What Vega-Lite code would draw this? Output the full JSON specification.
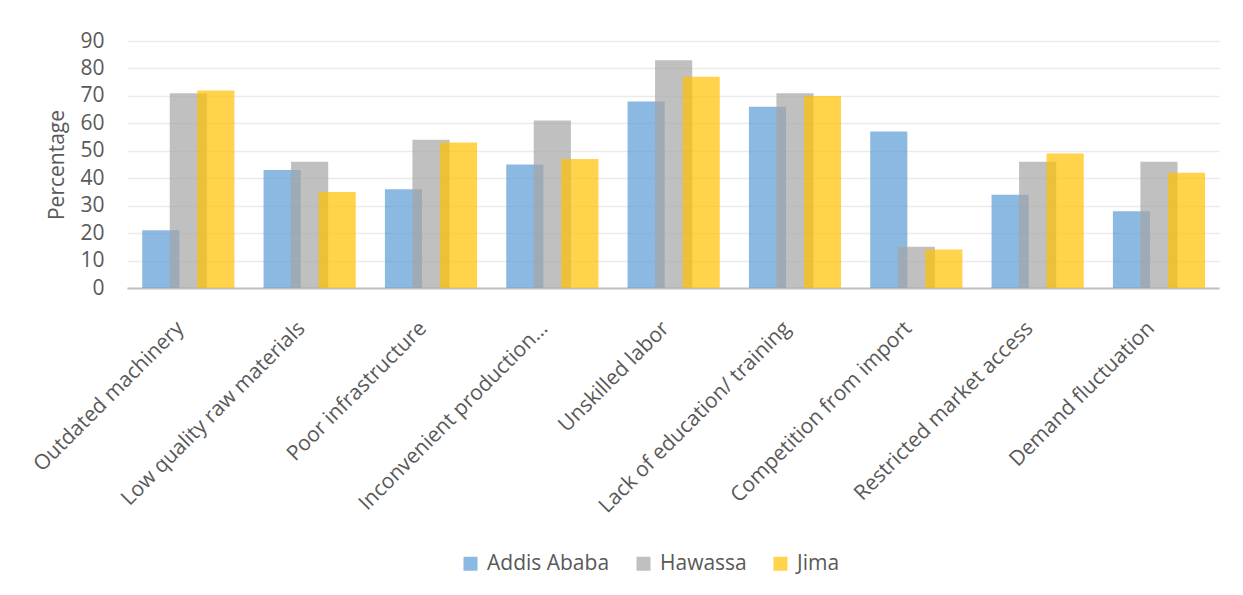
{
  "$schema": "https://vega.github.io/schema/vega-lite/v6.json",
  "width": 1092,
  "height": 247,
  "autosize": "none",
  "padding": {"left": 127, "top": 41, "right": 24, "bottom": 307},
  "background": "white",
  "data": {
    "values": [
      {"problem": "Outdated machinery", "city": "Addis Ababa", "pct": 21},
      {"problem": "Outdated machinery", "city": "Hawassa", "pct": 71},
      {"problem": "Outdated machinery", "city": "Jima", "pct": 72},
      {"problem": "Low quality raw materials", "city": "Addis Ababa", "pct": 43},
      {"problem": "Low quality raw materials", "city": "Hawassa", "pct": 46},
      {"problem": "Low quality raw materials", "city": "Jima", "pct": 35},
      {"problem": "Poor infrastructure", "city": "Addis Ababa", "pct": 36},
      {"problem": "Poor infrastructure", "city": "Hawassa", "pct": 54},
      {"problem": "Poor infrastructure", "city": "Jima", "pct": 53},
      {"problem": "Inconvenient production…", "city": "Addis Ababa", "pct": 45},
      {"problem": "Inconvenient production…", "city": "Hawassa", "pct": 61},
      {"problem": "Inconvenient production…", "city": "Jima", "pct": 47},
      {"problem": "Unskilled labor", "city": "Addis Ababa", "pct": 68},
      {"problem": "Unskilled labor", "city": "Hawassa", "pct": 83},
      {"problem": "Unskilled labor", "city": "Jima", "pct": 77},
      {"problem": "Lack of  education/ training", "city": "Addis Ababa", "pct": 66},
      {"problem": "Lack of  education/ training", "city": "Hawassa", "pct": 71},
      {"problem": "Lack of  education/ training", "city": "Jima", "pct": 70},
      {"problem": "Competition from import", "city": "Addis Ababa", "pct": 57},
      {"problem": "Competition from import", "city": "Hawassa", "pct": 15},
      {"problem": "Competition from import", "city": "Jima", "pct": 14},
      {"problem": "Restricted market access", "city": "Addis Ababa", "pct": 34},
      {"problem": "Restricted market access", "city": "Hawassa", "pct": 46},
      {"problem": "Restricted market access", "city": "Jima", "pct": 49},
      {"problem": "Demand fluctuation", "city": "Addis Ababa", "pct": 28},
      {"problem": "Demand fluctuation", "city": "Hawassa", "pct": 46},
      {"problem": "Demand fluctuation", "city": "Jima", "pct": 42}
    ]
  },
  "mark": {"type": "bar", "opacity": 0.7, "width": {"band": 1.35}},
  "encoding": {
    "x": {
      "field": "problem",
      "type": "nominal",
      "sort": null,
      "scale": {"paddingInner": 0, "paddingOuter": 0},
      "axis": {
        "title": null,
        "labelAngle": -45,
        "labelAlign": "right",
        "labelBaseline": "bottom",
        "labelFontSize": 21,
        "labelColor": "#595959",
        "labelFont": "Open Sans",
        "labelPadding": 44,
        "ticks": false,
        "domainColor": "#BFBFBF",
        "domainWidth": 2,
        "labelLimit": 400,
        "labelOverlap": false
      }
    },
    "xOffset": {
      "field": "city",
      "type": "nominal",
      "sort": ["Addis Ababa", "Hawassa", "Jima"],
      "scale": {"paddingInner": 0, "paddingOuter": 0.705, "align": 0.94}
    },
    "y": {
      "field": "pct",
      "type": "quantitative",
      "stack": null,
      "scale": {"domain": [0, 90], "nice": false},
      "axis": {
        "title": "Percentage",
        "titleFont": "Open Sans",
        "titleFontSize": 21,
        "titleFontWeight": "normal",
        "titleColor": "#595959",
        "titlePadding": 12,
        "values": [0, 10, 20, 30, 40, 50, 60, 70, 80, 90],
        "labelFont": "Open Sans",
        "labelFontSize": 21,
        "labelColor": "#595959",
        "labelPadding": 23,
        "ticks": false,
        "domain": false,
        "gridColor": "#EBEBEB",
        "gridWidth": 1.5
      }
    },
    "color": {
      "field": "city",
      "type": "nominal",
      "sort": ["Addis Ababa", "Hawassa", "Jima"],
      "scale": {"domain": ["Addis Ababa", "Hawassa", "Jima"], "range": ["#5B9BD5", "#A5A5A5", "#FFC000"]},
      "legend": {
        "title": null,
        "orient": "none",
        "direction": "horizontal",
        "legendX": 333,
        "legendY": 512,
        "symbolType": "square",
        "symbolSize": 196,
        "symbolOpacity": 0.7,
        "symbolStrokeWidth": 0,
        "labelFont": "Open Sans",
        "labelFontSize": 21,
        "labelColor": "#595959",
        "labelOffset": 6,
        "columnPadding": 23
      }
    }
  },
  "config": {"view": {"stroke": null}}
}
